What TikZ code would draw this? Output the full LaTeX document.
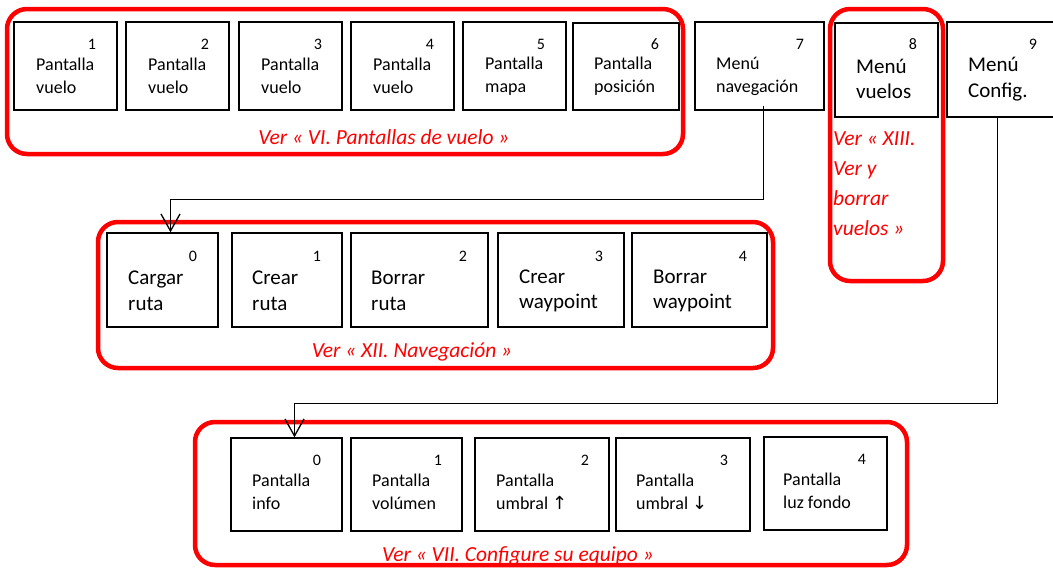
\documentclass[tikz,border=0pt]{standalone}
\usepackage{fontspec}
\setmainfont{Carlito}
\newfontfamily\arrowfont{DejaVu Sans}
\usetikzlibrary{fit,arrows.meta,calc}
\tikzset{
  bx/.style={draw=black, line width=1.4pt, inner sep=0pt},
  grp/.style={draw=red, line width=4.5pt, rounded corners=20pt},
  num/.style={font=\fontsize{16}{16}\selectfont, inner sep=0pt},
  lbl/.style={font=\fontsize{18}{23}\selectfont, align=left, anchor=west, inner sep=0pt},
  lblb/.style={font=\fontsize{21}{25.5}\selectfont, align=left, anchor=west, inner sep=0pt},
  reftxt/.style={text=red, font=\fontsize{21.5}{30}\selectfont\itshape, inner sep=0pt},
  conn/.style={line width=1.4pt, draw=black},
  tip/.style={-{Straight Barb[length=17pt,width=19pt,line width=1.3pt]}},
}
\begin{document}
\begin{tikzpicture}[x=1pt,y=-1pt]
\useasboundingbox (0,0) rectangle (1053,570);
\clip (0,0) rectangle (1053,570);
% ---------- top row ----------
\node[bx, fit={(14,22) (117,110)}] (t1) {};
\node[bx, fit={(126,22) (229,110)}] (t2) {};
\node[bx, fit={(239,22) (342,110)}] (t3) {};
\node[bx, fit={(351,22) (454,110)}] (t4) {};
\node[bx, fit={(463,22) (566,110)}] (t5) {};
\node[bx, fit={(573,23) (679,110)}] (t6) {};
\node[bx, fit={(695,22) (824,110)}] (t7) {};
\node[bx, fit={(835,23) (938,117)}] (t8) {};
\node[bx, fit={(947,22) (1080,117)}] (t9) {};

\node[num] (t1n) at (92,44) {1};
\node[num] (t2n) at (205,44) {2};
\node[num] (t3n) at (318,44) {3};
\node[num] (t4n) at (430,44) {4};
\node[num] (t5n) at (541,44) {5};
\node[num] (t6n) at (655,44) {6};
\node[num] (t7n) at (800,44) {7};
\node[num] (t8n) at (913,44) {8};
\node[num] (t9n) at (1033,44) {9};

\node[lbl] (t1l) at (36,76) {Pantalla\\vuelo};
\node[lbl] (t2l) at (148,76) {Pantalla\\vuelo};
\node[lbl] (t3l) at (261,76) {Pantalla\\vuelo};
\node[lbl] (t4l) at (373,76) {Pantalla\\vuelo};
\node[lbl] (t5l) at (485,76) {Pantalla\\mapa};
\node[lbl] (t6l) at (594,76) {Pantalla\\posición};
\node[lbl] (t7l) at (716,76) {Menú\\navegación};
\node[lblb] (t8l) at (856,79) {Menú\\vuelos};
\node[lblb] (t9l) at (968,79) {Menú\\Config.};

% ---------- navigation row ----------
\node[bx, fit={(107,233) (218,327)}] (n0) {};
\node[bx, fit={(232,233) (342,327)}] (n1) {};
\node[bx, fit={(351,233) (488,327)}] (n2) {};
\node[bx, fit={(498,233) (624,327)}] (n3) {};
\node[bx, fit={(632,233) (767,327)}] (n4) {};

\node[num] (n0n) at (193,256) {0};
\node[num] (n1n) at (317,256) {1};
\node[num] (n2n) at (463,256) {2};
\node[num] (n3n) at (599,256) {3};
\node[num] (n4n) at (743,256) {4};

\node[lblb] (n0l) at (128,291) {Cargar\\ruta};
\node[lblb] (n1l) at (252,291) {Crear\\ruta};
\node[lblb] (n2l) at (371,291) {Borrar\\ruta};
\node[lblb] (n3l) at (519,291) {Crear\\waypoint};
\node[lblb] (n4l) at (653,291) {Borrar\\waypoint};

% ---------- configuration row ----------
\node[bx, fit={(231,438) (342,531)}] (c0) {};
\node[bx, fit={(351,438) (462,531)}] (c1) {};
\node[bx, fit={(475,438) (609,531)}] (c2) {};
\node[bx, fit={(616,438) (750,531)}] (c3) {};
\node[bx, fit={(764,437) (887,530)}] (c4) {};

\node[num] (c0n) at (317,460) {0};
\node[num] (c1n) at (438,460) {1};
\node[num] (c2n) at (585,460) {2};
\node[num] (c3n) at (724,460) {3};
\node[num] (c4n) at (862,459) {4};

\node[lbl] (c0l) at (252,492) {Pantalla\\info};
\node[lbl] (c1l) at (372,492) {Pantalla\\volúmen};
\node[lbl] (c2l) at (496,492) {Pantalla\\umbral {\arrowfont ↑}};
\node[lbl] (c3l) at (636,492) {Pantalla\\umbral {\arrowfont ↓}};
\node[lbl] (c4l) at (783,491) {Pantalla\\luz fondo};

% ---------- red groups ----------
\draw[grp] (7,9) rectangle (683,154);
\draw[grp] (830,9) rectangle (943,281);
\draw[grp] (98,222) rectangle (773,368);
\draw[grp] (195,422) rectangle (907,565);

\node[reftxt] (r1) at (384,137) {Ver « VI. Pantallas de vuelo »};
\node[reftxt, align=left, anchor=north west] (r2) at (833,132) {Ver « XIII.\\Ver y\\borrar\\vuelos »};
\node[reftxt] (r3) at (412,352) {Ver « XII. Navegación »};
\node[reftxt] (r4) at (518,556) {Ver « VII. Configure su equipo »};

% ---------- connectors ----------
\coordinate (a7) at ($(t7.south)+(4,-5)$);
\coordinate (b7) at ($(n0.north)+(8,0)$);
\draw[conn, tip] (a7) |- ($(b7)+(0,-33)$) -- (b7);
\coordinate (a9) at ($(t9.south west)+(51,0)$);
\coordinate (b9) at ($(c0.north)+(8,0)$);
\draw[conn, tip] (a9) |- ($(b9)+(0,-34)$) -- (b9);
\end{tikzpicture}
\end{document}
